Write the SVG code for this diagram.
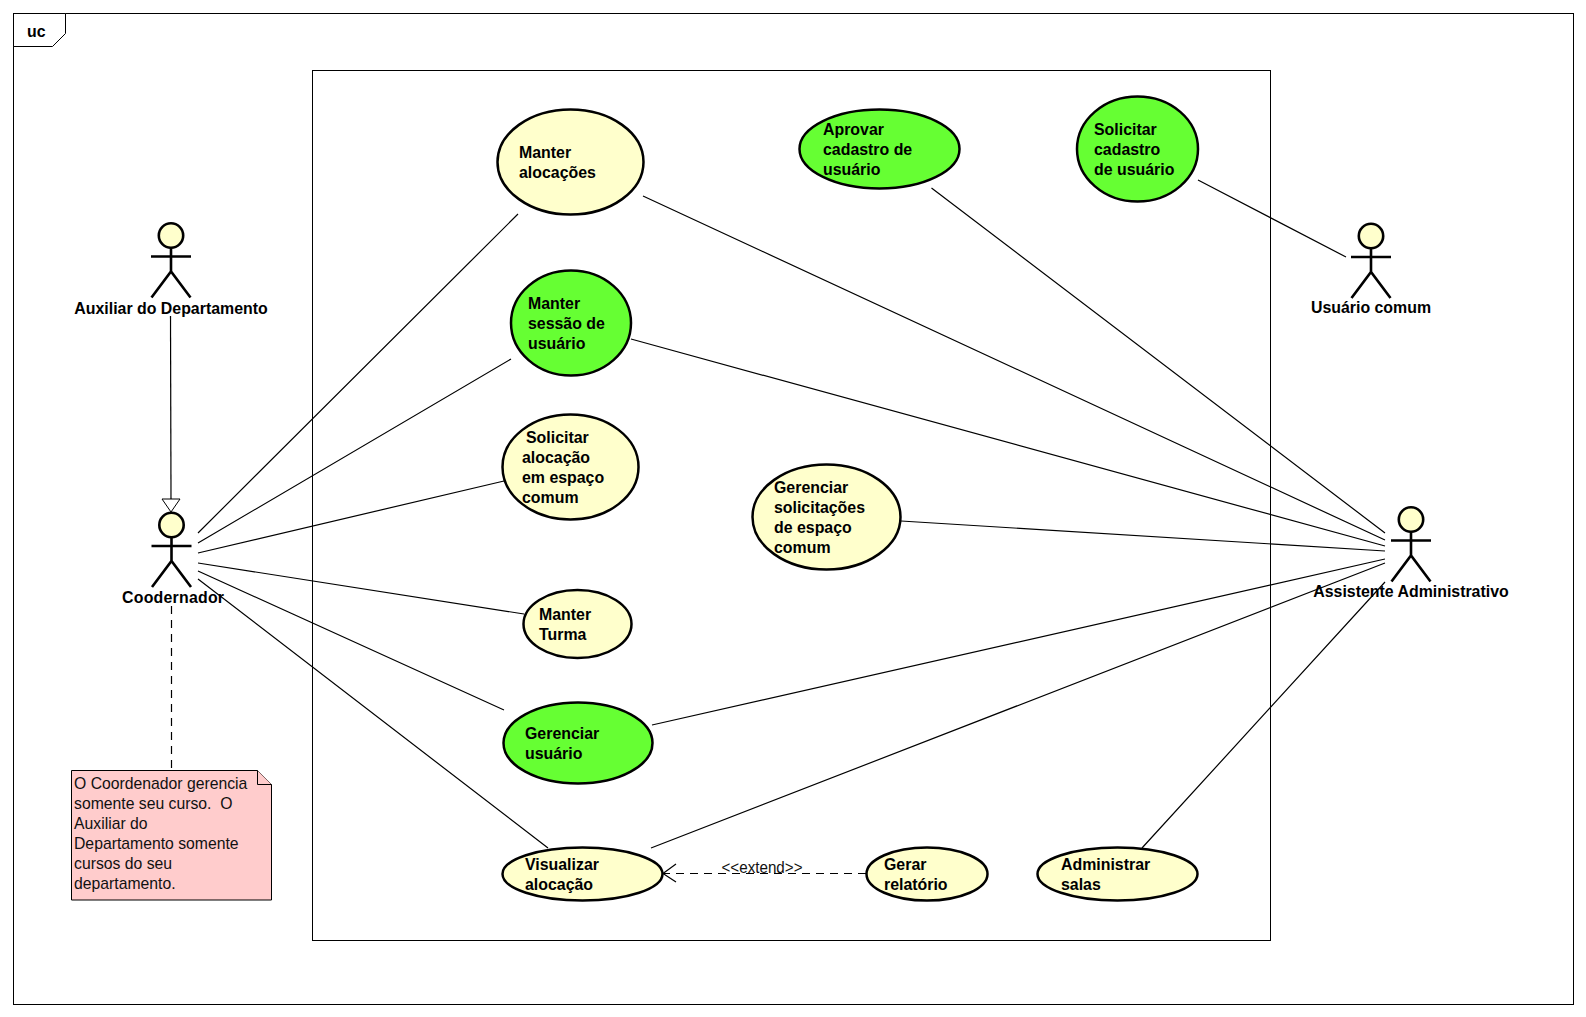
<svg xmlns="http://www.w3.org/2000/svg" width="1586" height="1017" viewBox="0 0 1586 1017">
<defs>
<style>
text{font-family:"Liberation Sans",Arial,sans-serif;font-size:15.9px;fill:#000}
.b{font-weight:bold}
.r{font-size:15.75px;fill:#111}
.frame{fill:#fff;stroke:#000;stroke-width:1}
.tab{fill:#fff;stroke:#000;stroke-width:1}
.y{fill:#ffffcc;stroke:#000;stroke-width:2.5}
.g{fill:#66ff33;stroke:#000;stroke-width:2.5}
.c{fill:none;stroke:#000;stroke-width:1.2}
.d{fill:none;stroke:#000;stroke-width:1.2;stroke-dasharray:8 6}
.a{fill:none;stroke:#000;stroke-width:2.6}
.h{fill:#ffffcc;stroke:#000;stroke-width:2.6}
.n{fill:#ffcccc;stroke:#000;stroke-width:1}
</style>
<g id="stick">
<circle class="h" cx="0" cy="0" r="12.2"/>
<path class="a" d="M0 12.5V36M-20 21H20M-19.5 62L0 36L19.5 62"/>
</g>
</defs>
<rect width="1586" height="1017" fill="#fff"/>
<g id="frame">
<rect class="frame" x="13.5" y="13.5" width="1560" height="991"/>
<path class="tab" d="M13.5 46.5H52.5L65.5 33.5V13.5"/>
<text class="b" x="27" y="37">uc</text>
</g>
<g id="boundary"><rect class="frame" x="312.5" y="70.5" width="958" height="870"/></g>
<g id="connectors">
<path class="c" d="M170.5 316L171 499"/>
<path d="M162 499H180L171 512Z" fill="#fff" stroke="#000" stroke-width="1"/>
<path class="c" d="M198 533L518 214M198 543L511 359M198 553L504 481M198 563L524 614M198 571L504 710M198 579L548 848"/>
<path class="c" d="M931.5 188L1385 533M643 196L1385 540M631 339L1385 546M901 521L1385 551M652 725L1385 559M651 848L1385 563M1142 848L1385 582M1198 180L1346 257"/>
<path class="d" d="M171.5 606V770"/>
<path class="d" d="M866 873.5H664"/>
<path class="c" d="M676 864L663 873.5L676 882"/>
<text class="r" x="762" y="873" text-anchor="middle" textLength="81" lengthAdjust="spacingAndGlyphs">&lt;&lt;extend&gt;&gt;</text>
</g>
<g id="ator-auxiliar"><use href="#stick" x="171" y="235.5"/><text class="b" x="171" y="314" text-anchor="middle">Auxiliar do Departamento</text></g>
<g id="ator-coordenador"><use href="#stick" x="171.5" y="525"/><text class="b" x="173" y="603" text-anchor="middle" textLength="102" lengthAdjust="spacing">Coodernador</text></g>
<g id="ator-assistente"><use href="#stick" x="1411" y="519.5"/><text class="b" x="1411" y="597" text-anchor="middle">Assistente Administrativo</text></g>
<g id="ator-usuario"><use href="#stick" x="1371" y="236"/><text class="b" x="1371" y="313" text-anchor="middle">Usuário comum</text></g>
<g id="uc-manter-alocacoes"><ellipse class="y" cx="570.5" cy="162" rx="73" ry="52.5"/><text class="b" x="519" y="158">Manter</text><text class="b" x="519" y="178">alocações</text></g>
<g id="uc-manter-sessao"><ellipse class="g" cx="571" cy="323" rx="60" ry="52.5"/><text class="b" x="528" y="309">Manter</text><text class="b" x="528" y="329">sessão de</text><text class="b" x="528" y="349">usuário</text></g>
<g id="uc-solicitar-alocacao"><ellipse class="y" cx="570.5" cy="467" rx="68" ry="52.5"/><text class="b" x="526" y="443">Solicitar</text><text class="b" x="522" y="463">alocação</text><text class="b" x="522" y="483">em espaço</text><text class="b" x="522" y="503">comum</text></g>
<g id="uc-gerenciar-solicitacoes"><ellipse class="y" cx="826.5" cy="517" rx="74" ry="52.5"/><text class="b" x="774" y="493">Gerenciar</text><text class="b" x="774" y="513">solicitações</text><text class="b" x="774" y="533">de espaço</text><text class="b" x="774" y="553">comum</text></g>
<g id="uc-manter-turma"><ellipse class="y" cx="577.5" cy="624" rx="54" ry="34"/><text class="b" x="539" y="620">Manter</text><text class="b" x="539" y="640">Turma</text></g>
<g id="uc-gerenciar-usuario"><ellipse class="g" cx="578" cy="743" rx="74.5" ry="40.5"/><text class="b" x="525" y="739">Gerenciar</text><text class="b" x="525" y="759">usuário</text></g>
<g id="uc-visualizar"><ellipse class="y" cx="582.5" cy="874" rx="80" ry="26.5"/><text class="b" x="525" y="870">Visualizar</text><text class="b" x="525" y="890">alocação</text></g>
<g id="uc-gerar"><ellipse class="y" cx="927" cy="874" rx="60.5" ry="26.5"/><text class="b" x="884" y="870">Gerar</text><text class="b" x="884" y="890">relatório</text></g>
<g id="uc-administrar"><ellipse class="y" cx="1117.5" cy="874" rx="80" ry="26.5"/><text class="b" x="1061" y="870">Administrar</text><text class="b" x="1061" y="890">salas</text></g>
<g id="uc-aprovar"><ellipse class="g" cx="879.5" cy="149" rx="80" ry="39.5"/><text class="b" x="823" y="135">Aprovar</text><text class="b" x="823" y="155">cadastro de</text><text class="b" x="823" y="175">usuário</text></g>
<g id="uc-solicitar-cadastro"><ellipse class="g" cx="1137.5" cy="149" rx="60.5" ry="52.5"/><text class="b" x="1094" y="135">Solicitar</text><text class="b" x="1094" y="155">cadastro</text><text class="b" x="1094" y="175">de usuário</text></g>
<g id="nota">
<path class="n" d="M71.5 770.5H257.5L271.5 784.5V900H71.5Z"/>
<path class="n" d="M257.5 770.5V784.5H271.5"/>
<text class="r" x="74" y="789">O Coordenador gerencia</text><text class="r" x="74" y="809" xml:space="preserve">somente seu curso.  O</text><text class="r" x="74" y="829">Auxiliar do</text><text class="r" x="74" y="849">Departamento somente</text><text class="r" x="74" y="869">cursos do seu</text><text class="r" x="74" y="889">departamento.</text>
</g>
</svg>
